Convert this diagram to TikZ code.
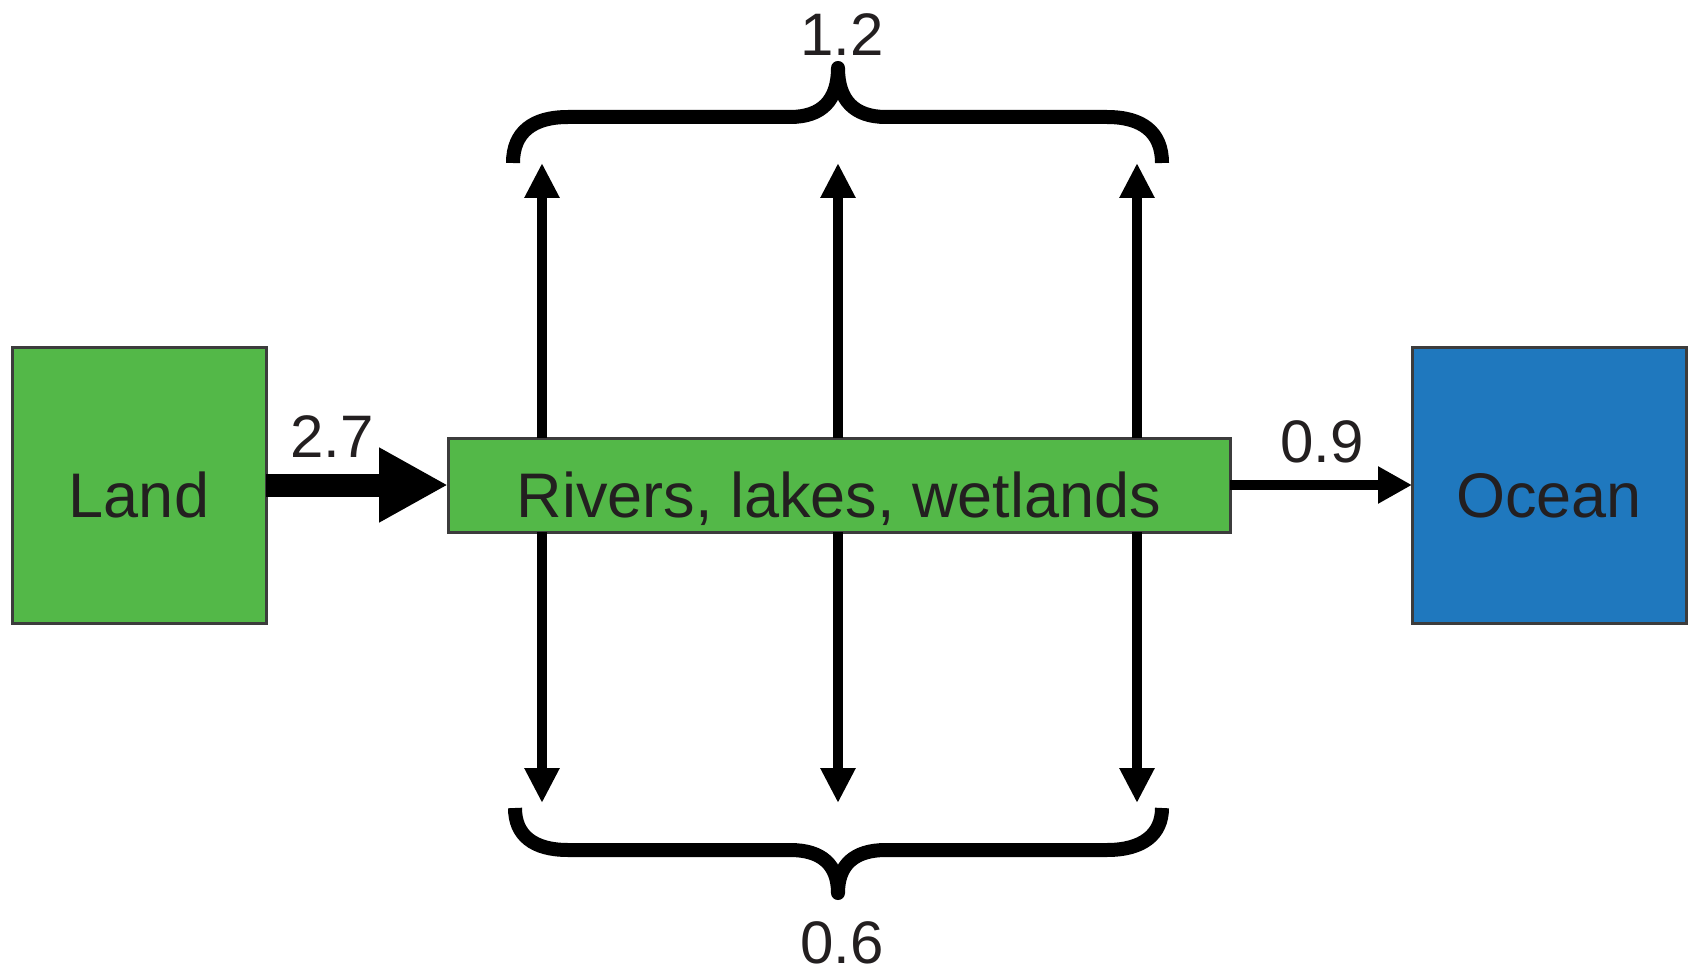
\documentclass[tikz,border=0pt]{standalone}
\usepackage{fontspec}
\setmainfont{Liberation Sans}
\usetikzlibrary{arrows.meta}
\definecolor{boxgreen}{RGB}{83,184,72}
\definecolor{boxblue}{RGB}{31,120,190}
\definecolor{boxedge}{RGB}{60,60,60}
\definecolor{txt}{RGB}{35,31,32}
\tikzset{
  box/.style={draw=boxedge, line width=1.5pt, inner sep=0pt, outer sep=0pt,
    text=txt, font=\fontsize{31.5}{37}\selectfont, text height=32pt, text depth=0pt},
  num/.style={inner sep=0pt, text=txt, font=\fontsize{30}{36}\selectfont},
  bigarrow/.style={line width=11.5pt, -{Triangle[length=34.5pt,width=35pt]}},
  thinarrow/.style={line width=5pt, -{Triangle[length=17pt,width=17.5pt]}},
  vertarrow/.style={line width=5pt, -{Triangle[length=17.5pt,width=16.5pt]}},
  bracepath/.style={line width=7pt, line cap=butt, line join=round}
}
\begin{document}
\begin{tikzpicture}[x=0.5pt,y=-0.5pt]
\useasboundingbox (0,0) rectangle (1688,974);
% boxes
\node[box, fill=boxgreen, minimum width=127pt, minimum height=138pt] (land) at (139,485) {Land};
\node[box, fill=boxgreen, minimum width=391pt, minimum height=47pt] (rivers) at (839,485) {Rivers, lakes, wetlands};
\node[box, fill=boxblue, minimum width=137pt, minimum height=138pt] (ocean) at (1549,485) {Ocean};
% arrow tips
\coordinate (t1) at (542,163);
\coordinate (t2) at (838,163);
\coordinate (t3) at (1137,163);
\coordinate (b1) at (542,803);
\coordinate (b2) at (838,803);
\coordinate (b3) at (1137,803);
% vertical arrows
\foreach \c in {1,2,3}{
  \draw[vertarrow] (t\c |- rivers.north) -- (t\c);
  \draw[vertarrow] (b\c |- rivers.south) -- (b\c);
}
% horizontal arrows
\draw[bigarrow] (land.east) -- (rivers.west);
\draw[thinarrow] (rivers.east) -- (ocean.west);
% braces
\draw[bracepath] (513,163) .. controls (513,132) and (533,117) .. (568,117)
  -- (790,117) .. controls (822,117) and (838,100) .. (838,68)
  .. controls (838,100) and (854,117) .. (886,117)
  -- (1107,117) .. controls (1142,117) and (1162,132) .. (1162,163);
\draw[bracepath] (515,808) .. controls (515,835) and (533,850) .. (568,850)
  -- (790,850) .. controls (822,850) and (838,865) .. (838,893)
  .. controls (838,865) and (854,850) .. (886,850)
  -- (1107,850) .. controls (1142,850) and (1162,835) .. (1162,808);
% labels
\node[num] (l27) at (332,437) {2.7};
\node[num] (l09) at (1322,442) {0.9};
\node[num] (l12) at (842,35) {1.2};
\node[num] (l06) at (842,943) {0.6};
\end{tikzpicture}
\end{document}
